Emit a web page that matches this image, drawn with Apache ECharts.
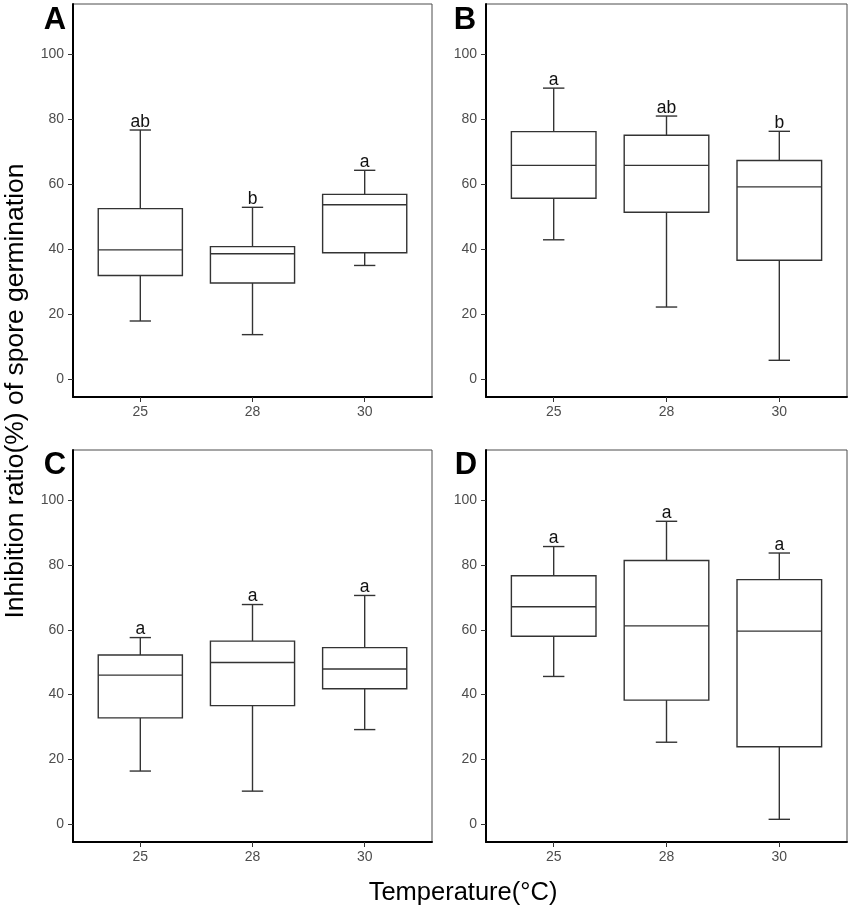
<!DOCTYPE html>
<html>
<head>
<meta charset="utf-8">
<script src="https://cdn.jsdelivr.net/npm/echarts@6/dist/echarts.min.js"></script>
<style>
  html, body { margin: 0; padding: 0; background: #ffffff; }
  #chart { width: 852px; height: 908px; }
</style>
</head>
<body>
<div id="chart"></div>
<script>
// Categories (temperature, °C) placed at positions 1, 2, 3 of the x scale
const temps = ['25', '28', '30'];
const yTicks = [0, 20, 40, 60, 80, 100];

// Each row: [lower whisker, Q1, median, Q3, upper whisker]
const boxA = [[17.9, 31.9, 39.8, 52.5, 76.7], [13.7, 29.6, 38.6, 40.8, 52.9], [35.0, 38.9, 53.7, 56.9, 64.3]];
const boxB = [[42.9, 55.7, 65.8, 76.2, 89.6], [22.2, 51.4, 65.8, 75.1, 81.0], [5.8, 36.6, 59.2, 67.3, 76.3]];
const boxC = [[16.4, 32.8, 46.0, 52.2, 57.6], [10.2, 36.6, 49.9, 56.5, 67.8], [29.2, 41.8, 47.9, 54.5, 70.6]];
const boxD = [[45.6, 58.0, 67.1, 76.7, 85.7], [25.3, 38.3, 61.2, 81.4, 93.5], [1.5, 23.9, 59.6, 75.5, 83.7]];

// Significance letters
const lettersA = ['ab', 'b', 'a'];
const lettersB = ['a', 'ab', 'b'];
const lettersC = ['a', 'a', 'a'];
const lettersD = ['a', 'a', 'a'];

const panelNames = ['A', 'B', 'C', 'D'];

const FONT = "'Liberation Sans', Arial, sans-serif";
const LINE = '#333333';

const grids = [
  { left: 73, top: 4, width: 359, height: 393 },
  { left: 486, top: 4, width: 361, height: 393 },
  { left: 73, top: 450, width: 359, height: 392 },
  { left: 486, top: 450, width: 361, height: 392 }
];

function makeRender(letters) {
  return function (params, api) {
    const x = api.value(0);
    const lo = api.value(1), q1 = api.value(2), med = api.value(3), q3 = api.value(4), hi = api.value(5);
    const halfBox = api.size([0.75, 0])[0] / 2;
    const halfCap = api.size([0.19, 0])[0] / 2;
    const pLo = api.coord([x, lo]);
    const pQ1 = api.coord([x, q1]);
    const pMed = api.coord([x, med]);
    const pQ3 = api.coord([x, q3]);
    const pHi = api.coord([x, hi]);
    const cx = pMed[0];
    const st = { stroke: LINE, lineWidth: 1.4, fill: null };
    return {
      type: 'group',
      children: [
        { type: 'line', shape: { x1: cx, y1: pHi[1], x2: cx, y2: pQ3[1] }, style: st },
        { type: 'line', shape: { x1: cx, y1: pQ1[1], x2: cx, y2: pLo[1] }, style: st },
        { type: 'line', shape: { x1: cx - halfCap, y1: pHi[1], x2: cx + halfCap, y2: pHi[1] }, style: st },
        { type: 'line', shape: { x1: cx - halfCap, y1: pLo[1], x2: cx + halfCap, y2: pLo[1] }, style: st },
        { type: 'rect', shape: { x: cx - halfBox, y: pQ3[1], width: 2 * halfBox, height: pQ1[1] - pQ3[1] },
          style: { stroke: LINE, lineWidth: 1.4, fill: '#ffffff' } },
        { type: 'line', shape: { x1: cx - halfBox, y1: pMed[1], x2: cx + halfBox, y2: pMed[1] }, style: st },
        { type: 'text', x: cx, y: pHi[1] + 1,
          style: { text: letters[params.dataIndex], fill: '#111111', font: '17.5px ' + FONT,
                   textAlign: 'center', textVerticalAlign: 'bottom' } }
      ]
    };
  };
}

const boxes = [boxA, boxB, boxC, boxD];
const letters = [lettersA, lettersB, lettersC, lettersD];

const option = {
  animation: false,
  backgroundColor: '#ffffff',
  grid: grids.map(g => Object.assign({ show: true, borderColor: '#4d4d4d', borderWidth: 1, backgroundColor: 'transparent', containLabel: false }, g)),
  xAxis: grids.map((g, i) => ({
    type: 'value', gridIndex: i, min: 0.4, max: 3.6,
    axisLine: { show: true, onZero: false, lineStyle: { color: '#000000', width: 2 } },
    axisTick: { show: true, customValues: [1, 2, 3], length: 5, lineStyle: { color: LINE, width: 1 } },
    axisLabel: { customValues: [1, 2, 3], margin: 8, color: '#4d4d4d', fontSize: 14, fontFamily: FONT,
                 formatter: v => temps[Math.round(v) - 1] },
    splitLine: { show: false }
  })),
  yAxis: grids.map((g, i) => ({
    type: 'value', gridIndex: i, min: -5.5, max: 115.5,
    axisLine: { show: true, onZero: false, lineStyle: { color: '#000000', width: 2 } },
    axisTick: { show: true, customValues: yTicks, length: 5, lineStyle: { color: LINE, width: 1 } },
    axisLabel: { customValues: yTicks, margin: 9, color: '#4d4d4d', fontSize: 14, fontFamily: FONT },
    splitLine: { show: false }
  })),
  series: boxes.map((b, i) => ({
    type: 'custom',
    xAxisIndex: i, yAxisIndex: i,
    encode: { x: 0, y: [1, 2, 3, 4, 5] },
    data: b.map((row, k) => [k + 1].concat(row)),
    renderItem: makeRender(letters[i]),
    clip: false
  })),
  graphic: [
    { type: 'text', x: 55, y: 20, style: { text: panelNames[0], font: 'bold 31px ' + FONT, fill: '#000', textAlign: 'center', textVerticalAlign: 'middle' } },
    { type: 'text', x: 465, y: 20, style: { text: panelNames[1], font: 'bold 31px ' + FONT, fill: '#000', textAlign: 'center', textVerticalAlign: 'middle' } },
    { type: 'text', x: 55, y: 465, style: { text: panelNames[2], font: 'bold 31px ' + FONT, fill: '#000', textAlign: 'center', textVerticalAlign: 'middle' } },
    { type: 'text', x: 466, y: 465, style: { text: panelNames[3], font: 'bold 31px ' + FONT, fill: '#000', textAlign: 'center', textVerticalAlign: 'middle' } },
    { type: 'text', x: 16, y: 391, rotation: Math.PI / 2,
      style: { text: 'Inhibition ratio(%) of spore germination', font: '26.5px ' + FONT, fill: '#000', textAlign: 'center', textVerticalAlign: 'middle' } },
    { type: 'text', x: 463, y: 893,
      style: { text: 'Temperature(°C)', font: '25.5px ' + FONT, fill: '#000', textAlign: 'center', textVerticalAlign: 'middle' } }
  ]
};

const chart = echarts.init(document.getElementById('chart'), null, { renderer: 'canvas' });
chart.setOption(option);
</script>
</body>
</html>
